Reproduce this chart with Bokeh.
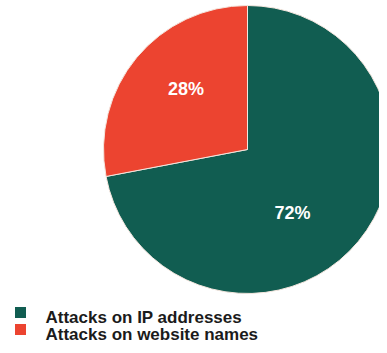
import math
from bokeh.plotting import figure
from bokeh.models import Range1d, ColumnDataSource
from bokeh.core.properties import value
from bokeh.embed import file_html
from bokeh.resources import INLINE

# ---- data ----
categories = ["Attacks on IP addresses", "Attacks on website names"]
shares = [72, 28]
pct_labels = ["72%", "28%"]
colors = ["#115d51", "#ec4430"]

# ---- style / layout ----
W, H = 379, 345
CX, CY = 247, H - 149     # pie centre in data units (1 unit = 1 px)
R = 144
label_frac = [0.54, 0.60]
label_nudge_deg = [-15, -5]

p = figure(width=W, height=H, output_backend="svg", toolbar_location=None,
           x_range=Range1d(0, W), y_range=Range1d(0, H),
           min_border=0, outline_line_color=None)
p.axis.visible = False
p.grid.visible = False
p.background_fill_color = "white"
p.border_fill_color = "white"

# wedges: the second slice (28%) starts at 12 o'clock going counter-clockwise
total = sum(shares)
order = [1, 0]
angles = {}
a = math.pi / 2
for i in order:
    span = 2 * math.pi * shares[i] / total
    angles[i] = (a, a + span)
    a += span
starts = [angles[i][0] for i in range(len(shares))]
ends = [angles[i][1] for i in range(len(shares))]

src = ColumnDataSource(dict(x=[CX] * len(shares), y=[CY] * len(shares),
                            start=starts, end=ends, color=colors))
p.wedge(x="x", y="y", radius=R, start_angle="start", end_angle="end",
        fill_color="color", line_color="#f4e6de", line_width=1, source=src)

lx, ly = [], []
for i in range(len(shares)):
    mid = (starts[i] + ends[i]) / 2 + math.radians(label_nudge_deg[i])
    lx.append(CX + R * label_frac[i] * math.cos(mid))
    ly.append(CY + R * label_frac[i] * math.sin(mid))
p.text(x=lx, y=ly, text=pct_labels, text_color="white",
       text_font=value("Liberation Sans"), text_font_style="bold",
       text_font_size="18px", text_align="center", text_baseline="middle")

# legend drawn manually
leg_y = [H - 317, H - 334]
p.scatter(x=[20] * len(categories), y=[v + 5 for v in leg_y], marker="square",
          size=11, fill_color=colors, line_color=None)
p.text(x=[45] * len(categories), y=leg_y, text=categories, text_color="#1b1b1b",
       text_font=value("Liberation Sans"), text_font_style="bold",
       text_font_size="17px", text_align="left", text_baseline="alphabetic")

open("out.html", "w").write(file_html(p, INLINE))
